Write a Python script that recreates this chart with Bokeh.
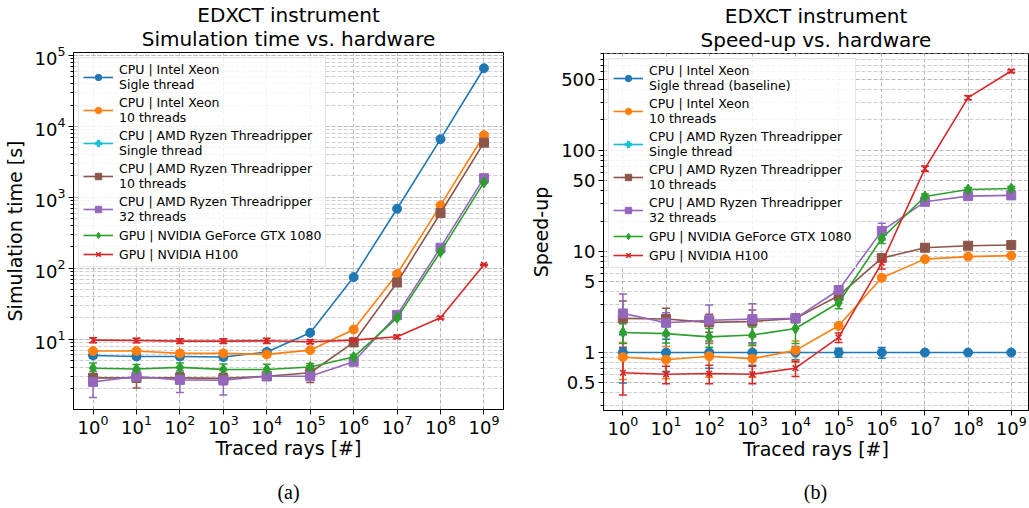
from bokeh.plotting import figure
from bokeh.models import (Range1d, FixedTicker, LogTicker, LogTickFormatter,
                          CustomJSTickFormatter, Whisker, TeeHead, ColumnDataSource,
                          Legend, LegendItem, Title, Div)
from bokeh.layouts import row, column
from bokeh.embed import file_html
from bokeh.resources import INLINE

# ---------------- data ----------------
rays = [1e0, 1e1, 1e2, 1e3, 1e4, 1e5, 1e6, 1e7, 1e8, 1e9]
x_ticks = [1e0, 1e1, 1e2, 1e3, 1e4, 1e5, 1e6, 1e7, 1e8, 1e9]

labels_time = [
    "CPU | Intel Xeon\nSigle thread",
    "CPU | Intel Xeon\n10 threads",
    "CPU | AMD Ryzen Threadripper\nSingle thread",
    "CPU | AMD Ryzen Threadripper\n10 threads",
    "CPU | AMD Ryzen Threadripper\n32 threads",
    "GPU | NVIDIA GeForce GTX 1080",
    "GPU | NVIDIA H100",
]
labels_speed = [
    "CPU | Intel Xeon\nSigle thread (baseline)",
    "CPU | Intel Xeon\n10 threads",
    "CPU | AMD Ryzen Threadripper\nSingle thread",
    "CPU | AMD Ryzen Threadripper\n10 threads",
    "CPU | AMD Ryzen Threadripper\n32 threads",
    "GPU | NVIDIA GeForce GTX 1080",
    "GPU | NVIDIA H100",
]

# simulation time [s]  (AMD single thread: no data shown in the chart)
xeon1_t = [5.9, 5.7, 5.7, 5.6, 6.6, 12.3, 75, 690, 6600, 66000]
xeon1_te = [0.5, 0.5, 0.5, 0.5, 0.6, 0.6, 3, 15, 100, 800]
xeon10_t = [6.8, 6.8, 6.3, 6.3, 6.1, 7.0, 13.7, 83, 770, 7500]
xeon10_te = [0.5, 0.5, 0.5, 0.6, 0.5, 0.4, 0.7, 3, 15, 100]
amd1_t = []
amd1_te = []
amd10_t = [2.85, 2.85, 2.85, 2.8, 3.0, 3.36, 9.0, 63, 600, 5900]
amd10_te = [0.4, 0.8, 0.5, 0.5, 0.2, 0.9, 0.6, 2, 10, 80]
amd32_t = [2.5, 2.97, 2.67, 2.63, 3.0, 3.0, 4.8, 22, 195, 1860]
amd32_te = [1.0, 0.5, 0.9, 1.0, 0.2, 0.3, 0.4, 1, 4, 30]
gtx_t = [3.9, 3.8, 4.0, 3.75, 3.74, 4.05, 5.6, 20, 170, 1620]
gtx_te = [0.7, 0.6, 0.6, 0.7, 0.7, 0.5, 0.5, 1, 4, 25]
h100_t = [9.7, 9.6, 9.4, 9.4, 9.5, 9.2, 9.7, 10.8, 20, 112]
h100_te = [0.8, 0.7, 0.7, 0.7, 0.8, 0.6, 0.7, 0.6, 0.8, 2]

# speed-up
xeon1_s = [1, 1, 1, 1, 1, 1, 1, 1, 1, 1]
xeon1_se = [0.5, 0.35, 0.3, 0.25, 0.15, 0.1, 0.12, 0.02, 0.02, 0.02]
xeon10_s = [0.90, 0.85, 0.92, 0.87, 1.05, 1.84, 5.5, 8.4, 8.9, 9.1]
xeon10_se = [0.36, 0.3, 0.35, 0.3, 0.25, 0.1, 0.3, 0.2, 0.2, 0.2]
amd1_s = []
amd1_se = []
amd10_s = [2.18, 2.15, 1.99, 2.03, 2.18, 3.65, 8.6, 10.9, 11.4, 11.6]
amd10_se = [1.05, 0.6, 0.4, 0.6, 0.15, 0.35, 0.5, 0.3, 0.3, 0.3]
amd32_s = [2.44, 1.97, 2.09, 2.14, 2.18, 4.16, 16, 31, 35.3, 35.9]
amd32_se = [1.35, 0.5, 0.86, 0.9, 0.2, 0.4, 3, 1, 1, 1]
gtx_s = [1.58, 1.54, 1.43, 1.49, 1.73, 3.11, 13.5, 35, 41, 42]
gtx_se = [0.35, 0.3, 0.3, 0.3, 0.5, 0.4, 1.5, 2, 2, 2]
h100_s = [0.63, 0.61, 0.62, 0.61, 0.70, 1.41, 7.7, 66, 333, 610]
h100_se = [0.25, 0.12, 0.13, 0.12, 0.12, 0.15, 1.0, 4, 15, 20]

speed_ticks = [0.5, 1, 5, 10, 50, 100, 500]
speed_minor = [0.3, 0.4, 0.6, 0.7, 0.8, 0.9, 2, 3, 4, 6, 7, 8, 9,
               20, 30, 40, 60, 70, 80, 90, 200, 300, 400, 600, 700, 800, 900]

colors = ["#1f77b4", "#ff7f0e", "#17becf", "#8c564b", "#9467bd", "#2ca02c", "#d62728"]
markers = ["circle", "circle", "plus", "square", "square", "diamond", "x"]
msizes = [9, 9, 10, 9, 9, 11, 8]

FONT = "DejaVu Sans"
NAN = float("nan")


def style_fig(p, ylabel):
    p.outline_line_color = "black"
    p.outline_line_width = 1
    p.background_fill_color = "white"
    p.border_fill_color = "white"
    for ax in (p.xaxis[0], p.yaxis[0]):
        ax.major_label_text_font = FONT
        ax.major_label_text_font_size = "18px"
        ax.major_label_text_color = "black"
        ax.axis_label_text_font = FONT
        ax.axis_label_text_font_size = "19px"
        ax.axis_label_text_font_style = "normal"
        ax.axis_label_text_color = "black"
        ax.axis_line_color = "black"
        ax.major_tick_line_color = "black"
        ax.minor_tick_line_color = "black"
        ax.major_tick_in = 0
        ax.major_tick_out = 5
        ax.minor_tick_in = 0
        ax.minor_tick_out = 3
        ax.major_label_standoff = 3
        ax.axis_label_standoff = 6
    p.xaxis.major_label_standoff = 0
    p.xaxis.axis_label_standoff = 0
    p.xaxis.axis_label = "Traced rays [#]"
    p.yaxis.axis_label = ylabel
    p.xaxis.ticker = FixedTicker(ticks=x_ticks, minor_ticks=[])
    p.xaxis.formatter = LogTickFormatter()
    for g in (p.xgrid[0], p.ygrid[0]):
        g.grid_line_color = "#b8b8b8"
        g.grid_line_dash = "4 2"
        g.grid_line_width = 1
    p.ygrid.minor_grid_line_color = "#cfcfcf"
    p.ygrid.minor_grid_line_dash = "4 2"


def add_titles(p, sub):
    p.add_layout(Title(text=sub, align="center", text_font=FONT, text_color="black",
                       text_font_size="20px", text_font_style="normal", standoff=4), "above")
    p.add_layout(Title(text="EDXCT instrument", align="center", text_font=FONT,
                       text_color="black", text_font_size="20px", text_font_style="normal",
                       standoff=-8), "above")


def caption(txt, width, left_pad, frame_w):
    html = ('<div style="width:%dpx;margin-left:%dpx;text-align:center;padding-top:11px;'
            'font-family:\'Liberation Serif\';font-size:20px;color:black;line-height:23px">%s</div>'
            % (frame_w, left_pad, txt))
    return Div(text=html, width=width, height=38, margin=0)


def add_series(p, ys, es, labels):
    items = []
    for i, (y, e) in enumerate(zip(ys, es)):
        c = colors[i]
        if len(y) == 0:
            data = dict(x=rays, y=[NAN] * len(rays), upper=[NAN] * len(rays),
                        lower=[NAN] * len(rays))
        else:
            data = dict(x=rays[:len(y)], y=y,
                        upper=[a + b for a, b in zip(y, e)],
                        lower=[a - b for a, b in zip(y, e)])
        src = ColumnDataSource(data)
        w = Whisker(source=src, base="x", upper="upper", lower="lower",
                    dimension="height", line_color=c, line_width=1.5,
                    upper_head=TeeHead(size=8, line_color=c, line_width=1.5),
                    lower_head=TeeHead(size=8, line_color=c, line_width=1.5))
        p.add_layout(w)
        ln = p.line("x", "y", source=src, line_color=c, line_width=1.6)
        sc = p.scatter("x", "y", source=src, marker=markers[i], size=msizes[i],
                       fill_color=c, line_color=c,
                       line_width=1.6 if markers[i] == "x" else 1)
        items.append(LegendItem(label=labels[i], renderers=[ln, sc]))
    leg = Legend(items=items, location="top_left", margin=5, padding=4,
                 spacing=3, glyph_width=30, glyph_height=16, label_standoff=6,
                 label_text_font=FONT, label_text_font_size="12.5px",
                 label_text_color="black", label_text_line_height=1.05,
                 background_fill_alpha=0.8, border_line_color="#cccccc",
                 border_line_width=1)
    p.add_layout(leg)


# ---------------- left: simulation time ----------------
p1 = figure(width=515, height=470, x_axis_type="log", y_axis_type="log",
            x_range=Range1d(10 ** -0.45, 10 ** 9.45), y_range=Range1d(1.02, 1.1e5),
            output_backend="svg", toolbar_location=None, margin=0,
            min_border_left=72, min_border_right=12, min_border_top=52, min_border_bottom=61)
style_fig(p1, "Simulation time [s]")
p1.yaxis.ticker = LogTicker(num_minor_ticks=10)
p1.yaxis.formatter = LogTickFormatter()
add_series(p1,
           [xeon1_t, xeon10_t, amd1_t, amd10_t, amd32_t, gtx_t, h100_t],
           [xeon1_te, xeon10_te, amd1_te, amd10_te, amd32_te, gtx_te, h100_te],
           labels_time)
add_titles(p1, "Simulation time vs. hardware")

# ---------------- right: speed-up ----------------
p2 = figure(width=514, height=470, x_axis_type="log", y_axis_type="log",
            x_range=Range1d(10 ** -0.45, 10 ** 9.4), y_range=Range1d(0.267, 910),
            output_backend="svg", toolbar_location=None, margin=0,
            min_border_left=88, min_border_right=1, min_border_top=53, min_border_bottom=60)
style_fig(p2, "Speed-up")
p2.yaxis.ticker = FixedTicker(ticks=speed_ticks, minor_ticks=speed_minor)
p2.yaxis.formatter = CustomJSTickFormatter(code="return String(tick);")
add_series(p2,
           [xeon1_s, xeon10_s, amd1_s, amd10_s, amd32_s, gtx_s, h100_s],
           [xeon1_se, xeon10_se, amd1_se, amd10_se, amd32_se, gtx_se, h100_se],
           labels_speed)
add_titles(p2, "Speed-up vs. hardware")

cap_a = caption("(a)", 515, 62, 453)
cap_b = caption("(b)", 514, 87, 427)

layout = row(column(p1, cap_a, margin=0, spacing=0),
             column(p2, cap_b, margin=0, spacing=0), margin=0, spacing=0)
open("out.html", "w").write(file_html(layout, INLINE))
